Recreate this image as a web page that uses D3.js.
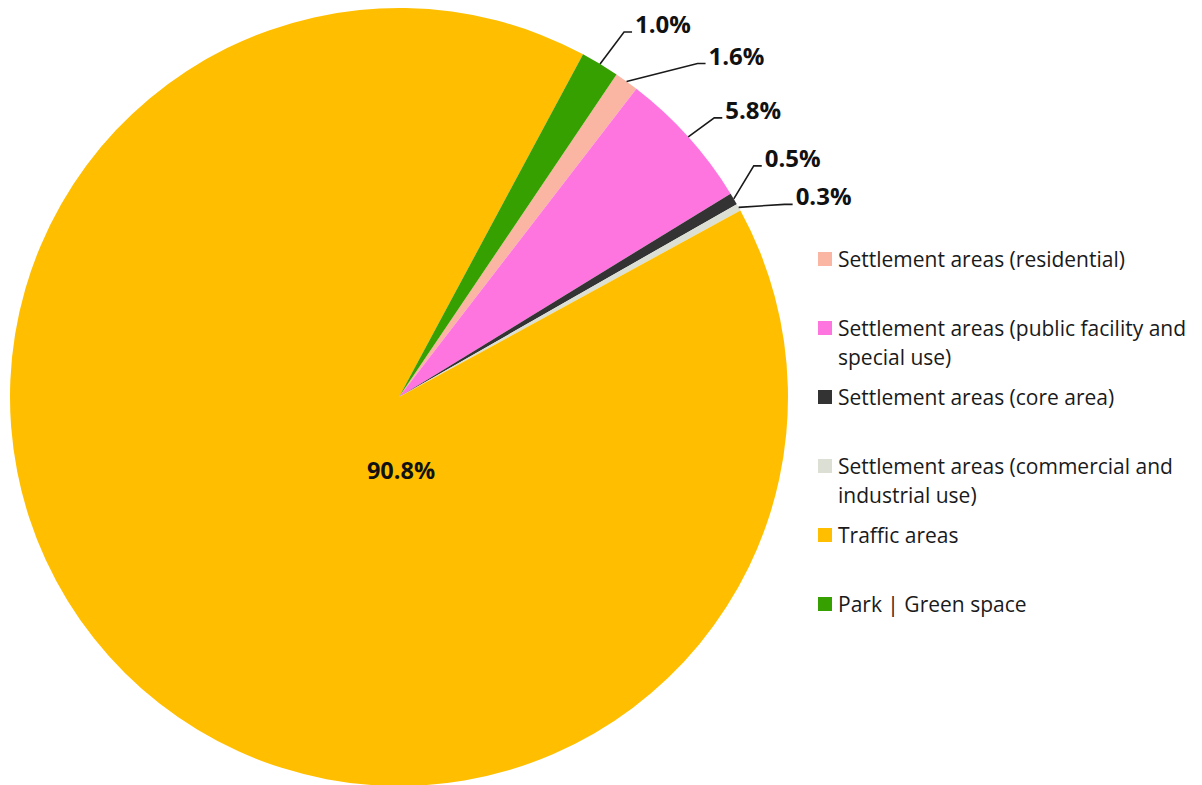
<!DOCTYPE html>
<html>
<head>
<meta charset="utf-8">
<script src="https://cdn.jsdelivr.net/npm/d3@7"></script>
<style>
  html, body { margin: 0; padding: 0; background: #ffffff; }
  svg { display: block; }
</style>
</head>
<body>
<div id="chart"></div>
<script>
// Land use shares (clockwise from the first slice)
const categories = [
    'Settlement areas (residential)',
    'Settlement areas (public facility and special use)',
    'Settlement areas (core area)',
    'Settlement areas (commercial and industrial use)',
    'Traffic areas',
    'Park | Green space'
];
const values = [1.0, 5.8, 0.5, 0.3, 90.8, 1.6];
// data labels as printed on the chart
const labelTexts = ['1.6%', '5.8%', '0.5%', '0.3%', '90.8%', '1.0%'];
const colors = ['#fbb5a3', '#ff75e0', '#333333', '#dcdfd3', '#ffbf00', '#36a000'];

const width = 1202;
const height = 785;
const cx = 399, cy = 397, radius = 389;
const firstSliceAngle = 34; // degrees, clockwise from 12 o'clock

// manual label placement (dragged labels), offset of elbow from slice edge
const labelNudge = [[71, -18], [26, -19], [20, -33], [46, -3], null, [24, -32]];
const elbowRun = [8, 8, 8, 8, 0, 8];

const svg = d3.select('#chart').append('svg')
    .attr('width', width)
    .attr('height', height)
    .attr('viewBox', [0, 0, width, height]);

const pie = d3.pie()
    .value(d => d)
    .sort(null)
    .startAngle(firstSliceAngle * Math.PI / 180)
    .endAngle(firstSliceAngle * Math.PI / 180 + 2 * Math.PI);

const arcs = pie(values);
const arc = d3.arc().innerRadius(0).outerRadius(radius);

const g = svg.append('g')
    .attr('transform', `translate(${cx},${cy})`);

g.selectAll('path')
    .data(arcs)
    .join('path')
    .attr('d', arc)
    .attr('fill', (d, i) => colors[i]);

// Leader lines + labels
const font = "'Open Sans', 'DejaVu Sans', sans-serif";
arcs.forEach((d, i) => {
    const mid = (d.startAngle + d.endAngle) / 2;
    if (!labelNudge[i]) {
        // inside label for the big slice
        g.append('text')
            .attr('x', 2)
            .attr('y', radius * 0.195)
            .attr('text-anchor', 'middle')
            .attr('dominant-baseline', 'middle')
            .style('font-family', font)
            .style('font-size', '23.5px')
            .style('font-weight', 'bold')
            .style('fill', '#111111')
            .text(labelTexts[i]);
        return;
    }
    const sx = Math.sin(mid) * radius;
    const sy = -Math.cos(mid) * radius;
    const ex = sx + labelNudge[i][0];
    const ey = sy + labelNudge[i][1];
    const hx = ex + elbowRun[i];

    g.append('polyline')
        .attr('points', [[sx, sy], [ex, ey], [hx, ey]].map(p => p.join(',')).join(' '))
        .attr('fill', 'none')
        .attr('stroke', '#1a1a1a')
        .attr('stroke-width', 1.6);

    g.append('text')
        .attr('x', hx + 3)
        .attr('y', ey + 1)
        .style('font-family', font)
        .style('font-size', '24px')
        .style('font-weight', 'bold')
        .style('fill', '#111111')
        .text(labelTexts[i]);
});

// Legend
const legendX = 818;
const legendY0 = 259;
const legendStep = 69;
const lineHeight = 29;
const maxTextWidth = 370;

const legend = svg.append('g');

categories.forEach((name, i) => {
    const y = legendY0 + i * legendStep;
    legend.append('rect')
        .attr('x', legendX)
        .attr('y', y - 7)
        .attr('width', 14)
        .attr('height', 14)
        .attr('fill', colors[i]);

    const text = legend.append('text')
        .attr('x', legendX + 20)
        .attr('y', y)
        .attr('dominant-baseline', 'central')
        .style('font-family', font)
        .style('font-size', '21px')
        .style('fill', '#1a1a1a');

    // simple word wrap
    const words = name.split(' ');
    let line = [];
    let tspan = text.append('tspan').attr('x', legendX + 20).attr('dy', 0);
    words.forEach(w => {
        line.push(w);
        tspan.text(line.join(' '));
        if (tspan.node().getComputedTextLength() > maxTextWidth && line.length > 1) {
            line.pop();
            tspan.text(line.join(' '));
            line = [w];
            tspan = text.append('tspan')
                .attr('x', legendX + 20)
                .attr('dy', lineHeight)
                .text(w);
        }
    });
});
</script>
</body>
</html>
